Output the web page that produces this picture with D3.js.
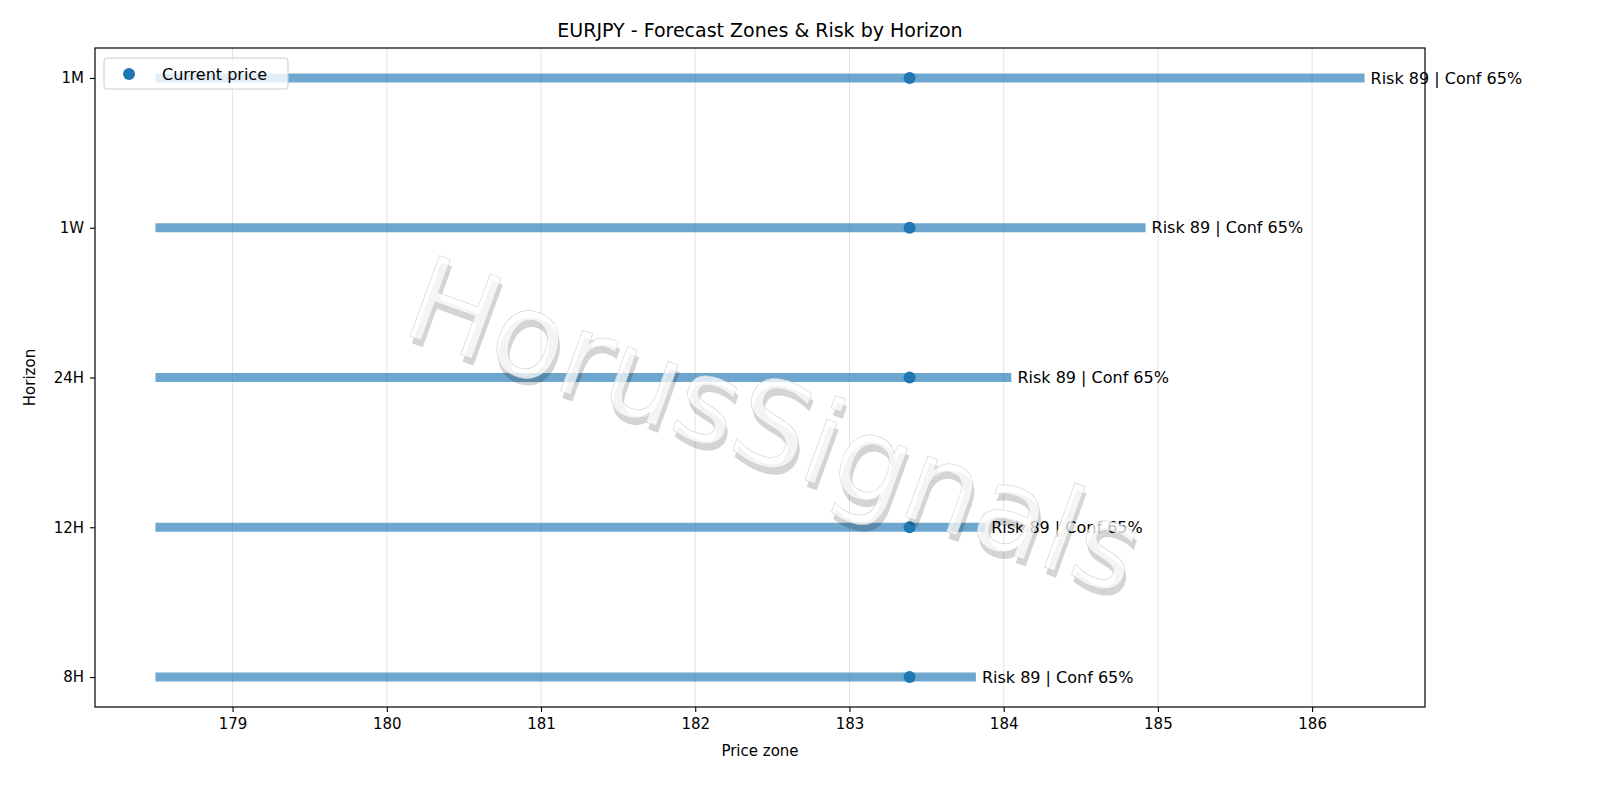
<!DOCTYPE html>
<html><head><meta charset="utf-8">
<script src="https://cdn.jsdelivr.net/npm/d3@7"></script>
<style>body{margin:0;background:#fff}text{font-family:"DejaVu Sans",sans-serif}</style>
</head><body><svg id="c" width="1600" height="800"></svg>
<script>
var horizons = ["8H", "12H", "24H", "1W", "1M"];
var zoneLow = [178.5, 178.5, 178.5, 178.5, 178.5];
var zoneHigh = [183.82, 183.88, 184.05, 184.92, 186.34];
var currentPrice = [183.39, 183.39, 183.39, 183.39, 183.39];
var risk = [89, 89, 89, 89, 89];
var conf = [65, 65, 65, 65, 65];
var xTicks = [179, 180, 181, 182, 183, 184, 185, 186];

var m = {l: 95, r: 1425, t: 48, b: 707};
var svg = d3.select('#c');
var x = d3.scaleLinear().domain([178.108, 186.732]).range([m.l, m.r]);
var y = d3.scaleLinear().domain([-0.2, 4.2]).range([m.b, m.t]);

// grid
svg.append('g').selectAll('line').data(xTicks).enter().append('line')
  .attr('x1', d => x(d)).attr('x2', d => x(d)).attr('y1', m.t).attr('y2', m.b)
  .attr('stroke', '#e3e3e3').attr('stroke-width', 1);

var rows = horizons.map((h, i) => ({h: h, i: i, lo: zoneLow[i], hi: zoneHigh[i], p: currentPrice[i], r: risk[i], c: conf[i]}));

svg.append('g').selectAll('line').data(rows).enter().append('line')
  .attr('x1', d => x(d.lo)).attr('x2', d => x(d.hi))
  .attr('y1', d => y(d.i)).attr('y2', d => y(d.i))
  .attr('stroke', '#1f77b4').attr('stroke-opacity', 0.65).attr('stroke-width', 9);

svg.append('g').selectAll('circle').data(rows).enter().append('circle')
  .attr('cx', d => x(d.p)).attr('cy', d => y(d.i)).attr('r', 6).attr('fill', '#1f77b4');

svg.append('g').selectAll('text').data(rows).enter().append('text')
  .attr('x', d => x(d.hi) + 6).attr('y', d => y(d.i)).attr('dy', '0.35em')
  .attr('font-size', 16).text(d => 'Risk ' + d.r + ' | Conf ' + d.c + '%');

// watermark
var wm = svg.append('g').attr('transform', 'translate(775,425) rotate(20)');
wm.append('text').attr('x', 4).attr('y', 6).attr('text-anchor', 'middle').attr('dy', '0.35em')
  .attr('font-size', 118).attr('fill', '#000').attr('fill-opacity', 0.17).text('HorusSignals');
wm.append('text').attr('text-anchor', 'middle').attr('dy', '0.35em')
  .attr('font-size', 118).attr('fill', '#fff').attr('fill-opacity', 0.75)
  .attr('stroke', '#ccc').attr('stroke-width', 0.5).text('HorusSignals');

// frame
svg.append('rect').attr('x', m.l).attr('y', m.t).attr('width', m.r - m.l).attr('height', m.b - m.t)
  .attr('fill', 'none').attr('stroke', '#000').attr('stroke-width', 1.2);

var xa = svg.append('g').attr('transform', 'translate(0,' + m.b + ')')
  .call(d3.axisBottom(x).tickValues(xTicks).tickSize(5).tickPadding(6).tickFormat(d3.format('d')));
var ya = svg.append('g').attr('transform', 'translate(' + m.l + ',0)')
  .call(d3.axisLeft(y).tickValues(d3.range(horizons.length)).tickSize(5).tickPadding(6).tickFormat(i => horizons[i]));
[xa, ya].forEach(a => {
  a.attr('font-size', 15).attr('font-family', 'DejaVu Sans');
  a.select('.domain').remove();
  a.selectAll('.tick line').attr('stroke-width', 1.1);
});

svg.append('text').attr('x', (m.l + m.r) / 2).attr('y', 37).attr('text-anchor', 'middle').attr('font-size', 19)
  .text('EURJPY - Forecast Zones & Risk by Horizon');
svg.append('text').attr('x', (m.l + m.r) / 2).attr('y', 756).attr('text-anchor', 'middle').attr('font-size', 15).text('Price zone');
svg.append('text').attr('transform', 'translate(35,' + (m.t + m.b) / 2 + ') rotate(-90)').attr('text-anchor', 'middle').attr('font-size', 15).text('Horizon');

// legend
var lg = svg.append('g');
lg.append('rect').attr('x', 104).attr('y', 58).attr('width', 184).attr('height', 31).attr('rx', 3)
  .attr('fill', '#fff').attr('fill-opacity', 0.8).attr('stroke', '#ccc');
lg.append('circle').attr('cx', 129).attr('cy', 74).attr('r', 6).attr('fill', '#1f77b4');
lg.append('text').attr('x', 162).attr('y', 74).attr('dy', '0.35em').attr('font-size', 16).text('Current price');
</script></body></html>
